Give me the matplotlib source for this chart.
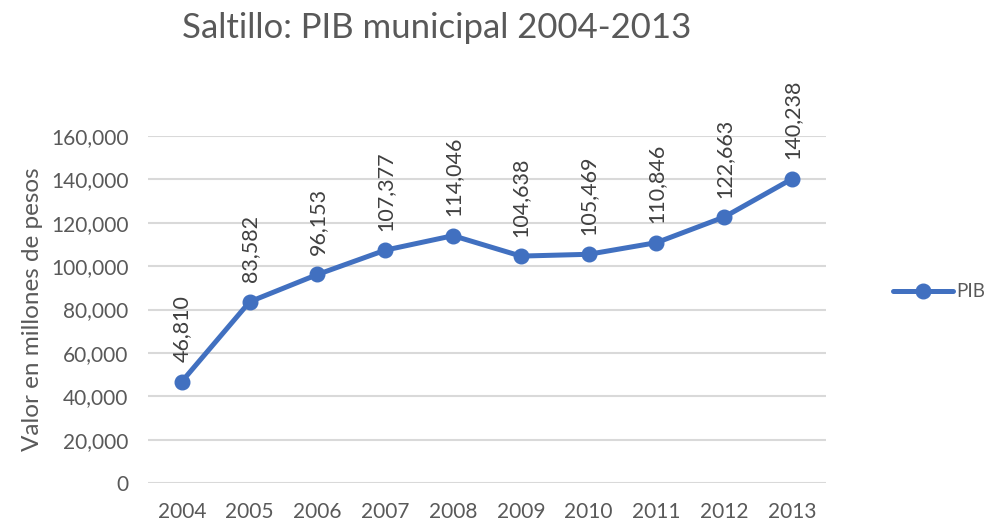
import matplotlib
matplotlib.use("Agg")
import matplotlib.pyplot as plt
from matplotlib.ticker import FuncFormatter, MultipleLocator

# data
years = ["2004", "2005", "2006", "2007", "2008", "2009", "2010", "2011", "2012", "2013"]
pib = [46810, 83582, 96153, 107377, 114046, 104638, 105469, 110846, 122663, 140238]

title = "Saltillo: PIB municipal 2004-2013"
y_label = "Valor en millones de pesos"
series_name = "PIB"

blue = "#4170C0"
gray_text = "#595959"
grid_col = "#D9D9D9"

plt.rcParams["font.family"] = ["Lato", "DejaVu Sans"]

fig = plt.figure(figsize=(9.84, 5.26), dpi=100)
ax = fig.add_axes([0.1504, 0.0817, 0.6890, 0.6597])

x = list(range(len(years)))
line, = ax.plot(x, pib, color=blue, lw=3.6, marker="o", ms=10.5,
                markerfacecolor=blue, markeredgecolor=blue, solid_capstyle="round",
                label=series_name, zorder=3)

# data labels, rotated like in Excel
for xi, v in zip(x, pib):
    ax.annotate(f"{v:,}", (xi, v), xytext=(0, 14), textcoords="offset points",
                rotation=90, ha="center", va="bottom", fontsize=15.5, color="#404040")

ax.set_xlim(-0.5, len(years) - 0.5)
ax.set_ylim(0, 160000)
ax.yaxis.set_major_locator(MultipleLocator(20000))
ax.yaxis.set_major_formatter(FuncFormatter(lambda v, p: f"{int(v):,}"))
ax.set_xticks(x)
ax.set_xticklabels(years)

ax.grid(axis="y", color=grid_col, lw=1.5)
ax.set_axisbelow(True)
for s in ax.spines.values():
    s.set_visible(False)
ax.tick_params(axis="both", length=0, labelsize=15, colors=gray_text)
ax.tick_params(axis="y", pad=14)
ax.tick_params(axis="x", pad=14)

ax.set_ylabel(y_label, fontsize=17.5, color=gray_text, labelpad=6)
fig.text(0.444, 0.928, title, ha="center", va="baseline", fontsize=25, color=gray_text)

leg = fig.legend(handles=[line], loc="center left", bbox_to_anchor=(0.900, 0.445),
                 frameon=False, fontsize=13.5, handlelength=3.2, handletextpad=0.15,
                 borderaxespad=0)
for t in leg.get_texts():
    t.set_color(gray_text)

fig.savefig("out.png", dpi=100)
